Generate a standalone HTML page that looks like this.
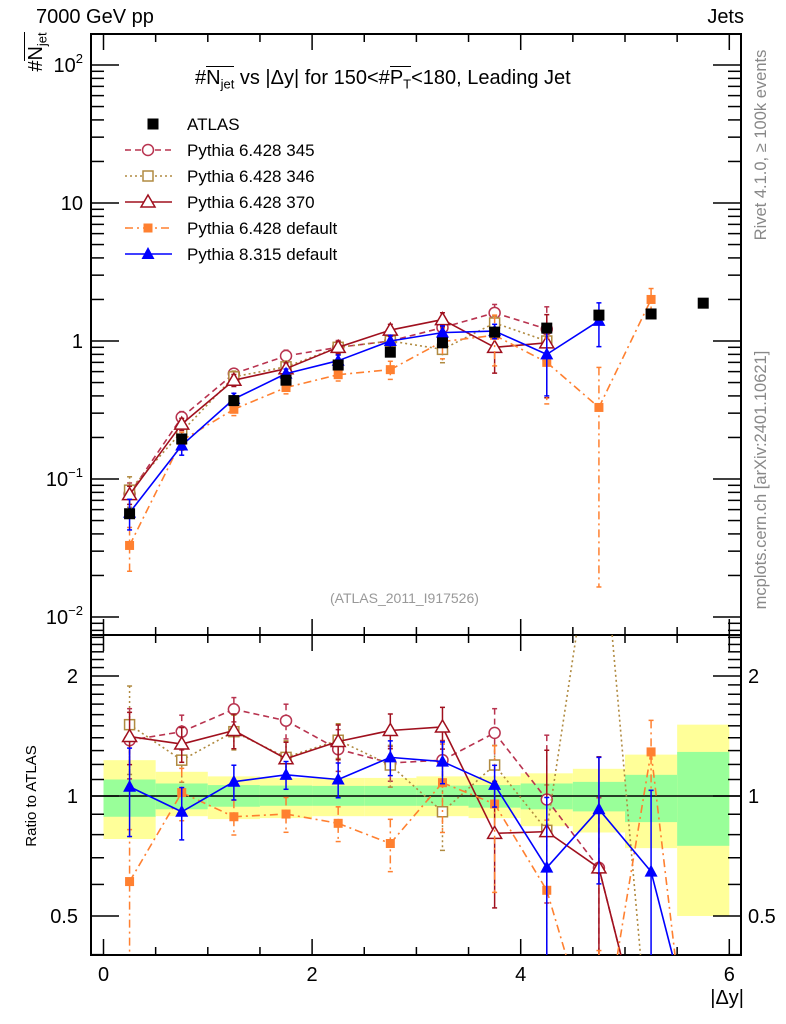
<!DOCTYPE html>
<html><head><meta charset="utf-8">
<style>
html,body{margin:0;background:#fff;width:786px;height:1024px;overflow:hidden;}
#wrap{position:relative;width:786px;height:1024px;overflow:hidden;font-family:"Liberation Sans",sans-serif;}
.t{position:absolute;white-space:nowrap;color:#000;}
.ov{display:inline-block;border-top:1.5px solid #000;line-height:1;padding-top:1px;}
sub{font-size:65%;vertical-align:-0.35em;line-height:0;}
</style></head><body>
<div id="wrap">
<svg id="svg" width="786" height="1024" style="position:absolute;left:0;top:0">
<g id="bands"></g>
<g id="grid"></g>
<g id="main"></g>
<g id="ratio"></g>
<g id="legend"></g>
<text x="0" y="0" transform="translate(36,796) rotate(-90)" text-anchor="middle" font-size="15" font-family="Liberation Sans">Ratio to ATLAS</text>
<text x="0" y="0" transform="translate(766,145) rotate(-90)" text-anchor="middle" font-size="16.5" fill="#888" font-family="Liberation Sans">Rivet 4.1.0, ≥ 100k events</text>
<text x="0" y="0" transform="translate(766,480) rotate(-90)" text-anchor="middle" font-size="16.5" fill="#888" font-family="Liberation Sans">mcplots.cern.ch [arXiv:2401.10621]</text>
</svg>
<div class="t" style="left:36px;top:6px;font-size:20px">7000 GeV pp</div>
<div class="t" style="right:42px;top:6px;font-size:20px">Jets</div>
<div class="t" style="left:195px;top:66px;font-size:20px">#<span class="ov">N<sub>jet</sub></span> vs |Δy| for 150&lt;#<span class="ov">P<sub>T</sub></span>&lt;180, Leading Jet</div>
<div class="t" style="left:-4px;top:40px;font-size:20px;transform:rotate(-90deg);width:80px;text-align:center">#<span class="ov">N<sub>jet</sub></span></div>
<div class="t" style="left:330px;top:590px;font-size:14px;color:#999">(ATLAS_2011_I917526)</div>
<div class="t" style="right:42px;top:986px;font-size:20px;line-height:24px">|Δy|</div>
</div>
<script>
const binCenters=[0.25,0.75,1.25,1.75,2.25,2.75,3.25,3.75,4.25,4.75,5.25,5.75];
const atlasVals=[0.056,0.195,0.37,0.52,0.67,0.83,0.97,1.16,1.24,1.54,1.57,1.88];
const atlasErr=[0.08,0.05,0.04,0.04,0.04,0.04,0.04,0.05,0.05,0.06,0.06,0.06];
const bandYelHi=[1.23,1.15,1.12,1.11,1.11,1.11,1.12,1.12,1.14,1.17,1.27,1.51];
const bandYelLo=[0.78,0.89,0.875,0.88,0.89,0.89,0.89,0.88,0.84,0.81,0.74,0.50];
const bandGrnHi=[1.10,1.075,1.065,1.062,1.06,1.06,1.062,1.065,1.075,1.085,1.13,1.29];
const bandGrnLo=[0.887,0.926,0.94,0.945,0.945,0.945,0.945,0.935,0.926,0.915,0.86,0.75];
const main345=[0.078,0.28,0.58,0.78,0.9,1.0,1.25,1.6,1.22,null,null,null];
const main346=[0.083,0.22,0.55,0.65,0.9,1.0,0.87,1.35,1.0,null,null,null];
const main370=[0.077,0.25,0.52,0.63,0.9,1.2,1.43,0.9,0.97,null,null,null];
const main6def=[0.033,0.19,0.32,0.46,0.57,0.62,0.99,1.1,0.7,0.33,2.0,null];
const main8def=[0.057,0.175,0.38,0.58,0.72,1.0,1.15,1.18,0.8,1.4,null,null];
const ratio345=[1.38,1.45,1.65,1.545,1.31,1.21,1.23,1.44,0.98,0.66,0.2,null];
const ratio346=[1.51,1.23,1.45,1.25,1.38,1.196,0.913,1.196,0.82,6,0.2,null];
const ratio370=[1.41,1.35,1.46,1.24,1.37,1.46,1.49,0.806,0.814,0.66,0.2,null];
const ratio6def=[0.61,1.02,0.887,0.901,0.854,0.76,1.08,0.955,0.58,0.21,1.29,0.1];
const ratio8def=[1.055,0.913,1.086,1.13,1.10,1.25,1.22,1.066,0.661,0.926,0.646,0.2];
const err345=[0.2,0.1,0.07,0.1,0.12,0.1,0.12,0.15,0.45,0.5,0.5,0.5];
const err346=[0.25,0.12,0.1,0.1,0.1,0.12,0.2,0.12,0.3,0.5,0.5,0.5];
const err370=[0.15,0.1,0.1,0.1,0.1,0.1,0.12,0.35,0.6,0.9,0.9,0.9];
const err6def=[0.35,0.15,0.1,0.1,0.1,0.15,0.25,0.4,0.5,0.95,0.2,0.5];
const err8def=[0.25,0.15,0.1,0.08,0.1,0.1,0.12,0.12,0.5,0.35,0.6,0.6];
const xTicks=[0,2,4,6];
const legendLabels=["ATLAS","Pythia 6.428 345","Pythia 6.428 346","Pythia 6.428 370","Pythia 6.428 default","Pythia 8.315 default"];

const NS="http://www.w3.org/2000/svg";
const X0=91,X1=741,YT=34,YM=635,YB=955;
const xs=v=>103.5+104.3*v;
const ym=v=>341-138*Math.log10(v);
const yr=v=>796-398.6*Math.log10(v);
function mk(tag,attrs,parent){const e=document.createElementNS(NS,tag);for(const k in attrs)e.setAttribute(k,attrs[k]);parent.appendChild(e);return e;}
const grid=document.getElementById('grid'),mainG=document.getElementById('main'),ratioG=document.getElementById('ratio'),bandsG=document.getElementById('bands'),legG=document.getElementById('legend');
const clampY=(y,a,b)=>Math.min(b,Math.max(a,y));

binCenters.forEach((c,i)=>{
  const xa=xs(c-0.25),xb=xs(c+0.25);
  const y1=clampY(yr(bandYelHi[i]),YM,YB),y2=clampY(yr(bandYelLo[i]),YM,YB);
  let r=mk('rect',{x:xa,y:y1,width:xb-xa,height:y2-y1,fill:'#ffff99'},bandsG);
  
  
  const g1=clampY(yr(bandGrnHi[i]),YM,YB),g2=clampY(yr(bandGrnLo[i]),YM,YB);
  r=mk('rect',{x:xa,y:g1,width:xb-xa,height:g2-g1,fill:'#99ff99'},bandsG);
  
  
});
mk('rect',{x:X0,y:YT,width:X1-X0,height:YM-YT,fill:'none',stroke:'#000','stroke-width':2},grid);
mk('rect',{x:X0,y:YM,width:X1-X0,height:YB-YM,fill:'none',stroke:'#000','stroke-width':2},grid);
mk('line',{x1:X0,x2:X1,y1:yr(1),y2:yr(1),stroke:'#000','stroke-width':1.5},grid);
for(let v=0;v<=6.01;v+=0.5){
  const x=xs(v),maj=Math.abs(v-Math.round(v/2)*2)<1e-6,L=maj?16:8;
  [[YT,1],[YM,-1],[YM,1],[YB,-1]].forEach(([y,d])=>mk('line',{x1:x,x2:x,y1:y,y2:y+d*L,stroke:'#000','stroke-width':1.5},grid));
}
xTicks.forEach(v=>{const t=mk('text',{x:xs(v),y:981,'font-size':20,'text-anchor':'middle','font-family':'Liberation Sans'},grid);t.textContent=v;
  
  });
for(let d=-3;d<=2;d++){for(let m=1;m<10;m++){const v=m*Math.pow(10,d),y=ym(v);if(y<YT||y>YM)continue;const L=m==1?28:13;
  mk('line',{x1:X0,x2:X0+L,y1:y,y2:y,stroke:'#000','stroke-width':1.5},grid);mk('line',{x1:X1,x2:X1-L,y1:y,y2:y,stroke:'#000','stroke-width':1.5},grid);}}
const mlabs=[[100,'10<tspan dy="-9" font-size="13">2</tspan>'],[10,'10'],[1,'1'],[0.1,'10<tspan dy="-9" font-size="13">−1</tspan>'],[0.01,'10<tspan dy="-9" font-size="13">−2</tspan>']];
mlabs.forEach(([v,h])=>{const t=mk('text',{x:83,y:ym(v)+7,'font-size':20,'text-anchor':'end','font-family':'Liberation Sans'},grid);t.innerHTML=h;
  
  });
const rt=[0.4,0.5,0.6,0.7,0.8,0.9,1,1.1,1.2,1.3,1.4,1.5,1.6,1.7,1.8,1.9,2,2.1,2.2,2.3,2.4,2.5];
rt.forEach(v=>{const y=yr(v);if(y<YM||y>YB)return;const L=(v==0.5||v==1||v==2)?28:13;
  mk('line',{x1:X0,x2:X0+L,y1:y,y2:y,stroke:'#000','stroke-width':1.5},grid);mk('line',{x1:X1,x2:X1-L,y1:y,y2:y,stroke:'#000','stroke-width':1.5},grid);});
[[2,'2'],[1,'1'],[0.5,'0.5']].forEach(([v,s])=>{
  let t=mk('text',{x:78,y:yr(v)+7,'font-size':20,'text-anchor':'end','font-family':'Liberation Sans'},grid);t.textContent=s;
  
  
  t=mk('text',{x:748,y:yr(v)+7,'font-size':20,'font-family':'Liberation Sans'},grid);t.textContent=s;
  
  });

function marker(g,type,color,x,y){
  let e;
  if(type=='atlas')e=mk('rect',{x:x-5.5,y:y-5.5,width:11,height:11,fill:'#000'},g);
  else if(type=='circle')e=mk('circle',{cx:x,cy:y,r:5.5,fill:'#fff',stroke:color,'stroke-width':1.5},g);
  else if(type=='osq')e=mk('rect',{x:x-5,y:y-5,width:10,height:10,fill:'#fff',stroke:color,'stroke-width':1.5},g);
  else if(type=='otri')e=mk('path',{d:`M${x},${y-7}L${x+7},${y+5}L${x-7},${y+5}Z`,fill:'#fff',stroke:color,'stroke-width':1.5},g);
  else if(type=='fsq')e=mk('rect',{x:x-4.5,y:y-4.5,width:9,height:9,fill:color},g);
  else e=mk('path',{d:`M${x},${y-7}L${x+6.5},${y+5}L${x-6.5},${y+5}Z`,fill:color},g);
  return e;
}
const series=[
 {name:'pythia-6-345',type:'circle',color:'#b8334f',dash:'6,4',main:main345,ratio:ratio345,err:err345},
 {name:'pythia-6-346',type:'osq',color:'#b08a40',dash:'2,3',main:main346,ratio:ratio346,err:err346},
 {name:'pythia-6-370',type:'otri',color:'#a0101e',dash:'',main:main370,ratio:ratio370,err:err370},
 {name:'pythia-6-default',type:'fsq',color:'#ff8030',dash:'8,4,2,4',main:main6def,ratio:ratio6def,err:err6def},
 {name:'pythia-8-default',type:'ftri',color:'#0000ff',dash:'',main:main8def,ratio:ratio8def,err:err8def}
];
// clip a segment to [ya,yb] vertically
function clipSeg(p,q,ya,yb){
  let [x1,y1]=p,[x2,y2]=q;
  if((y1<ya&&y2<ya)||(y1>yb&&y2>yb))return null;
  const at=(y)=>x1+(x2-x1)*(y-y1)/(y2-y1);
  if(y1<ya){x1=at(ya);y1=ya;}else if(y1>yb){x1=at(yb);y1=yb;}
  // recompute with original for second point
  let [ox1,oy1]=p;
  const at2=(y)=>ox1+(x2-ox1)*(y-oy1)/(y2-oy1);
  if(y2<ya){x2=at2(ya);y2=ya;}else if(y2>yb){x2=at2(yb);y2=yb;}
  return [[x1,y1],[x2,y2]];
}
function drawSeries(g,s,vals,yf,isRatio,ya,yb){
  const grp=mk('g',{},g);
  
  
  let pts=[];
  vals.forEach((v,i)=>{if(v!=null)pts.push([xs(binCenters[i]),yf(v)]);});
  let d='';
  for(let k=0;k+1<pts.length;k++){const c=clipSeg(pts[k],pts[k+1],ya,yb);if(c)d+=`M${c[0][0]},${c[0][1]}L${c[1][0]},${c[1][1]}`;}
  if(d){const pl=mk('path',{d:d,fill:'none',stroke:s.color,'stroke-width':1.6,'stroke-dasharray':s.dash},grp);
  
  }
  vals.forEach((v,i)=>{if(v==null)return;const x=xs(binCenters[i]),e=s.err[i];
    const lo=Math.max(v*(1-e),1e-4),hi=v*(1+e);
    const yh=clampY(yf(hi),ya,yb),yl=clampY(yf(lo),ya,yb);
    if(yh<yl){
      mk('line',{x1:x,x2:x,y1:yh,y2:yl,stroke:s.color,'stroke-width':1.5,'stroke-dasharray':s.dash},grp);
      if(yf(hi)>ya)mk('line',{x1:x-2.5,x2:x+2.5,y1:yh,y2:yh,stroke:s.color,'stroke-width':1.5},grp);
      if(yf(lo)<yb)mk('line',{x1:x-2.5,x2:x+2.5,y1:yl,y2:yl,stroke:s.color,'stroke-width':1.5},grp);
    }
    const y=yf(v);
    if(y<ya||y>yb)return;
    const m=marker(grp,s.type,s.color,x,y);
    
    
  });
}
binCenters.forEach((c,i)=>{const x=xs(c),v=atlasVals[i],e=atlasErr[i];
  mk('line',{x1:x,x2:x,y1:ym(v*(1+e)),y2:ym(v*(1-e)),stroke:'#000','stroke-width':1.5},mainG);});
series.forEach(s=>{drawSeries(mainG,s,s.main,ym,false,YT,YM);drawSeries(ratioG,s,s.ratio,yr,true,YM,YB);});
binCenters.forEach((c,i)=>{const m=marker(mainG,'atlas','#000',xs(c),ym(atlasVals[i]));
  
  });
const legTypes=['atlas','circle','osq','otri','fsq','ftri'];
legendLabels.forEach((lab,i)=>{
  const y=124+i*26;
  const g=mk('g',{},legG);
  
  
  if(i>0){const s=series[i-1];mk('line',{x1:125,x2:172,y1:y,y2:y,stroke:s.color,'stroke-width':1.6,'stroke-dasharray':s.dash},g);marker(g,legTypes[i],s.color,148,y);}
  else marker(g,'atlas','#000',153,y);
  const t=mk('text',{x:187,y:y+6,'font-size':17,'font-family':'Liberation Sans'},g);t.textContent=lab;
});
</script>
</body></html>
